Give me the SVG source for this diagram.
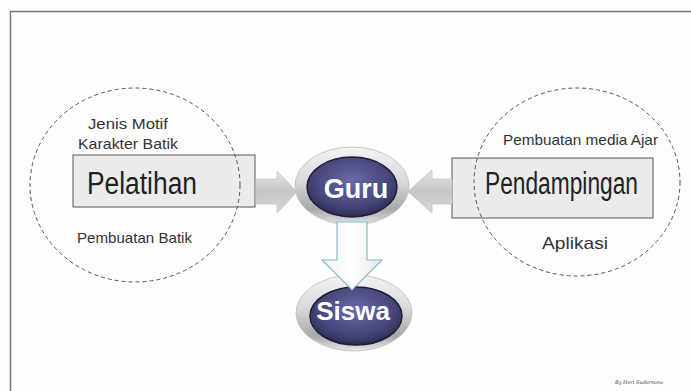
<svg xmlns="http://www.w3.org/2000/svg" width="691" height="391" viewBox="0 0 691 391">
<style>
.frame{fill:none;stroke:#7a7a7a;stroke-width:1.5}
.dash{fill:none;stroke:#555;stroke-width:1;stroke-dasharray:4 3}
.box{fill:#ebebeb;stroke:#555;stroke-width:1}
.small{font-family:"Liberation Sans",Arial,sans-serif;font-size:15px;fill:#333}
.big{font-family:"Liberation Sans",Arial,sans-serif;font-size:31px;fill:#222}
.hub{font-family:"Liberation Sans",Arial,sans-serif;font-size:27px;font-weight:bold;fill:#fff}
.ring{fill:url(#silver);stroke:#bbb;stroke-width:0.8}
.core{fill:url(#navy);stroke:#1e1e3a;stroke-width:1.5}
.garrow{fill:url(#grayArrow);stroke:#c4c4c4;stroke-width:0.8}
</style>
<defs>
<linearGradient id="silver" x1="0" y1="0" x2="0" y2="1">
<stop offset="0" stop-color="#f4f4f4"/>
<stop offset="0.45" stop-color="#d8d8d8"/>
<stop offset="0.8" stop-color="#a8a8a8"/>
<stop offset="1" stop-color="#e8e8e8"/>
</linearGradient>
<radialGradient id="navy" cx="0.5" cy="0.4" r="0.6">
<stop offset="0" stop-color="#6a6aa8"/>
<stop offset="0.7" stop-color="#46467a"/>
<stop offset="1" stop-color="#2c2c52"/>
</radialGradient>
<linearGradient id="grayArrow" x1="0" y1="0" x2="0" y2="1">
<stop offset="0" stop-color="#e2e2e2"/>
<stop offset="0.5" stop-color="#c6c6c6"/>
<stop offset="1" stop-color="#d8d8d8"/>
</linearGradient>
<linearGradient id="whiteArrow" x1="0" y1="0" x2="1" y2="0">
<stop offset="0" stop-color="#eef2f4"/>
<stop offset="0.5" stop-color="#ffffff"/>
<stop offset="1" stop-color="#e4e8ea"/>
</linearGradient>
</defs>
<rect x="0" y="0" width="691" height="391" fill="#fdfdfd"/>
<path class="frame" d="M691,11.5 H10.5 V391"/>

<g id="pelatihan-group">
<rect class="box" x="73" y="155" width="182" height="52"/>
<ellipse class="dash" cx="135" cy="185" rx="105" ry="97"/>
<text class="small" x="88" y="129" textLength="80" lengthAdjust="spacingAndGlyphs">Jenis Motif</text>
<text class="small" x="78" y="149" textLength="100" lengthAdjust="spacingAndGlyphs">Karakter Batik</text>
<text class="big" x="87" y="194" textLength="110" lengthAdjust="spacingAndGlyphs">Pelatihan</text>
<text class="small" x="77" y="243" textLength="115" lengthAdjust="spacingAndGlyphs">Pembuatan Batik</text>
</g>

<g id="pendampingan-group">
<rect class="box" x="452" y="158" width="201" height="60"/>
<ellipse class="dash" cx="577" cy="182" rx="103" ry="94"/>
<text class="small" x="503" y="145" textLength="155" lengthAdjust="spacingAndGlyphs">Pembuatan media Ajar</text>
<text class="big" x="485" y="194" textLength="153" lengthAdjust="spacingAndGlyphs">Pendampingan</text>
<text class="small" x="542" y="249" style="font-size:17px" textLength="66" lengthAdjust="spacingAndGlyphs">Aplikasi</text>
</g>

<g id="guru">
<ellipse class="ring" cx="352" cy="186" rx="57" ry="39"/>
<ellipse class="core" cx="352" cy="187" rx="45" ry="30"/>
<text class="hub" x="356" y="198" text-anchor="middle">Guru</text>
</g>

<g id="siswa">
<ellipse class="ring" cx="354" cy="313" rx="58" ry="38"/>
<ellipse class="core" cx="356" cy="316" rx="46" ry="29"/>
<text class="hub" x="353" y="320" text-anchor="middle" style="font-size:26px">Siswa</text>
</g>

<g id="connectors">
<path class="garrow" d="M256,179 H277 V171 L297,192 L277,213 V204 H256 Z"/>
<path class="garrow" d="M452,179 H432 V170 L408,191.5 L432,213 V204 H452 Z"/>
<path d="M337,222 H367 V260 H382 L352,290 L322,260 H337 Z" fill="url(#whiteArrow)" stroke="#86bccb" stroke-width="1.2"/>
</g>

<text x="615" y="384" style="font-family:'DejaVu Serif',serif;font-style:italic;font-size:5px;fill:#444">By Heri Sudarsono</text>
</svg>
